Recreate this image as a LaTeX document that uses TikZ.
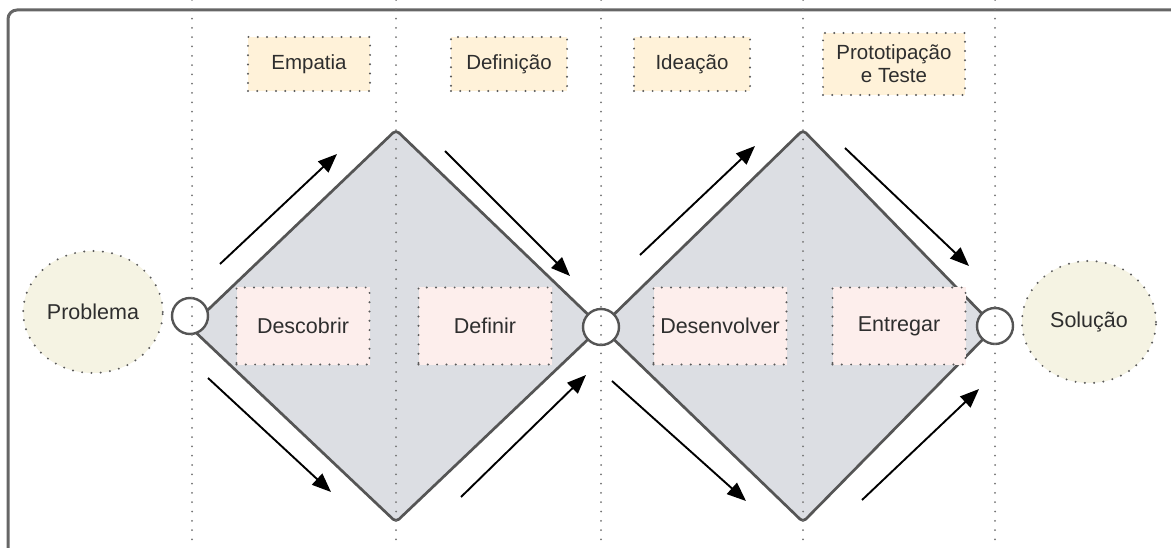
\documentclass[tikz,border=0pt]{standalone}
\usepackage{fontspec}
\setmainfont{Liberation Sans}
\usetikzlibrary{arrows.meta,shapes.geometric}
\definecolor{framegray}{HTML}{666666}
\definecolor{diafill}{HTML}{DCDEE3}
\definecolor{diaedge}{HTML}{555555}
\definecolor{topfill}{HTML}{FFF2D9}
\definecolor{botfill}{HTML}{FDEEEC}
\definecolor{endfill}{HTML}{F5F3E3}
\definecolor{txt}{HTML}{2E2E2E}
\definecolor{dotgray}{HTML}{5A5A5A}
\begin{document}
\begin{tikzpicture}[x=1pt,y=-1pt,
  dots/.style={draw=dotgray, line width=2.2pt, line cap=round, dash pattern=on 0pt off 9.3pt},
  phasebox/.style={dots, fill=topfill, minimum height=54pt, text=txt, inner sep=2pt,
    font=\fontsize{20.5}{23}\selectfont, align=center},
  stagebox/.style={dots, fill=botfill, minimum width=133pt, minimum height=77pt, text=txt,
    font=\fontsize{21.5}{24}\selectfont},
  endnode/.style={ellipse, dots, fill=endfill, minimum width=134pt, minimum height=122pt,
    text=txt, font=\fontsize{21.5}{24}\selectfont},
  joint/.style={circle, draw=diaedge, line width=2.4pt, fill=white, minimum size=36pt, inner sep=0pt},
  diamond/.style={draw=diaedge, fill=diafill, line width=2.7pt, rounded corners=4pt, line join=round},
  flow/.style={line width=1.9pt, -{Triangle[length=19pt,width=15pt]}},
  guide/.style={draw=dotgray!85, line width=2pt, line cap=round, dash pattern=on 0pt off 9.3pt}
]
\useasboundingbox (0,0) rectangle (1171,548);
\clip (0,0) rectangle (1171,548);
% frame
\draw[framegray, line width=3pt, rounded corners=9pt] (8,560) -- (8,10) -- (1190,10);
% diamonds
\draw[diamond] (190,327) -- (396,130) -- (601,327) -- (396,522) -- cycle;
\draw[diamond] (601,327) -- (803,130) -- (995,327) -- (803,522) -- cycle;
% joints
\node[joint] (j1) at (190,316) {};
\node[joint] (j2) at (601,327) {};
\node[joint] (j3) at (995,326) {};
% end nodes
\node[endnode] (prob) at (93,312) {Problema};
\node[endnode] (sol) at (1089,322) {Solução};
% phase boxes
\node[phasebox, minimum width=122pt] (emp) at (309,64) {Empatia};
\node[phasebox, minimum width=116pt] (def) at (509,64) {Definição};
\node[phasebox, minimum width=116pt] (ide) at (692,64) {Ideação};
\node[phasebox, minimum width=142pt, minimum height=62pt] (pro) at (894,64) {Prototipação\\e Teste};
% stage boxes
\node[stagebox] (desc) at (303,326) {Descobrir};
\node[stagebox] (defi) at (485,326) {Definir};
\node[stagebox] (dese) at (720,326) {Desenvolver};
\node[stagebox] (entr) at (899,326) {Entregar};
% arrows
\coordinate (a1s) at (220,264); \coordinate (a1e) at (337,154);
\coordinate (a2s) at (445,151); \coordinate (a2e) at (570,276);
\coordinate (a3s) at (208,378); \coordinate (a3e) at (331,492);
\coordinate (a4s) at (461,497); \coordinate (a4e) at (586,375);
\coordinate (b1s) at (640,255); \coordinate (b1e) at (755,146);
\coordinate (b2s) at (845,148); \coordinate (b2e) at (969,266);
\coordinate (b3s) at (612,381); \coordinate (b3e) at (746,501);
\coordinate (b4s) at (862,500); \coordinate (b4e) at (979,389);
\foreach \s/\e in {a1s/a1e,a2s/a2e,a3s/a3e,a4s/a4e,b1s/b1e,b2s/b2e,b3s/b3e,b4s/b4e}
  \draw[flow] (\s) -- (\e);
% guide lines
\foreach \gx/\gn in {192/g1,396/g2,601/g3,803/g4,995/g5} {
  \coordinate (\gn top) at (\gx,0);
  \coordinate (\gn bot) at (\gx,548);
  \draw[guide] (\gn top) -- (\gn bot);
}
\end{tikzpicture}
\end{document}
